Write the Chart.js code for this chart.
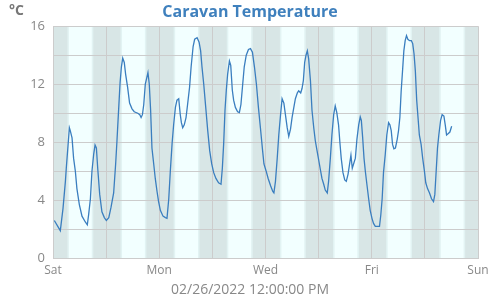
<!DOCTYPE html>
<html>
<head>
<meta charset="utf-8">
<script src="https://cdn.jsdelivr.net/npm/chart.js@4/dist/chart.umd.min.js"></script>
<style>
  body { margin: 0; background: #fff; }
  canvas { display: block; }
</style>
</head>
<body>
<canvas id="chart" width="500" height="300"></canvas>
<script>
// hours since Sat 00:00
const hours = [
  0.6, 3.3, 4.5, 5.6, 6.0, 6.6, 7.4, 7.8, 8.6, 9.3, 10.1, 10.8, 11.9, 13.1, 14.6, 15.5,
  16.1, 16.9, 17.6, 18.4, 19.0, 19.6, 20.2, 21.1, 22.1, 23.2, 24.1, 25.2, 26.2, 27.4,
  28.3, 28.9, 29.7, 30.3, 30.9, 31.5, 32.2, 32.8, 33.7, 34.6, 35.7, 36.7, 38.3, 39.2,
  39.8, 40.4, 41.0, 41.7, 42.3, 42.9, 43.5, 44.1, 44.7, 45.5, 46.2, 47.0, 47.7, 48.5,
  49.7, 50.8, 51.5, 52.3, 53.0, 53.8, 54.5, 55.3, 56.0, 56.8, 57.5, 58.0, 58.6, 59.3,
  60.1, 60.8, 61.7, 62.4, 63.3, 64.0, 65.1, 66.0, 66.7, 67.3, 68.1, 69.0, 69.9, 70.8,
  71.7, 72.6, 73.6, 74.8, 75.9, 76.5, 77.1, 77.7, 78.3, 78.9, 79.7, 80.3, 81.0, 81.6,
  82.4, 83.4, 84.2, 84.9, 85.7, 86.4, 87.3, 88.3, 89.2, 90.1, 91.0, 91.9, 92.8, 93.7,
  94.7, 95.3, 96.3, 97.2, 98.3, 99.3, 99.8, 100.5, 101.3, 102.0, 102.8, 103.5, 104.3,
  105.0, 105.8, 106.5, 107.3, 108.0, 108.8, 109.5, 110.4, 111.0, 111.9, 112.5, 113.1,
  113.7, 114.3, 114.9, 115.5, 116.3, 117.0, 117.8, 118.5, 119.3, 120.0, 120.8, 121.5,
  122.3, 123.0, 123.9, 124.5, 125.3, 126.0, 126.8, 127.5, 128.2, 129.0, 129.6, 130.2,
  131.0, 131.8, 132.5, 133.3, 134.0, 134.6, 135.2, 136.0, 136.6, 137.3, 138.1, 138.8,
  139.3, 139.9, 140.5, 141.1, 141.8, 142.6, 143.3, 144.1, 144.8, 145.6, 147.5, 148.1,
  148.7, 149.3, 150.1, 150.8, 151.6, 152.2, 152.8, 153.4, 154.0, 154.7, 155.5, 156.1,
  156.7, 157.3, 157.9, 158.5, 159.1, 159.7, 160.3, 161.1, 161.9, 162.5, 163.1, 163.7,
  164.3, 164.9, 165.5, 166.3, 167.0, 167.8, 168.4, 169.2, 170.1, 171.0, 171.9, 172.5,
  173.1, 173.7, 174.3, 175.1, 175.8, 176.6, 177.2, 177.8, 178.6, 179.3, 180.1
];
const temps = [
  2.6, 1.9, 3.4, 5.3, 6.2, 7.4, 9.0, 8.8, 8.3, 6.9, 6.0, 4.8, 3.7, 2.9, 2.5, 2.3,
  3.0, 4.1, 6.0, 7.2, 7.8, 7.6, 6.2, 4.4, 3.2, 2.8, 2.6, 2.8, 3.5, 4.5,
  6.5, 8.1, 10.4, 12.1, 13.2, 13.8, 13.5, 12.7, 11.8, 10.7, 10.3, 10.1, 10.0, 9.9,
  9.7, 9.9, 10.6, 12.0, 12.4, 12.8, 12.0, 10.2, 7.6, 6.5, 5.5, 4.6, 3.9, 3.3,
  2.9, 2.8, 2.75, 4.1, 6.0, 7.9, 9.2, 10.4, 10.9, 11.0, 9.9, 9.35, 9.0, 9.2,
  9.7, 10.6, 11.8, 13.2, 14.6, 15.1, 15.2, 14.9, 14.3, 13.2, 12.0, 10.4, 8.8, 7.4,
  6.5, 5.9, 5.5, 5.2, 5.1, 6.2, 7.9, 10.2, 11.6, 12.7, 13.6, 13.3, 11.6, 10.9,
  10.4, 10.1, 10.05, 10.6, 12.0, 13.2, 14.0, 14.4, 14.45, 14.2, 13.2, 12.0, 10.4, 9.0,
  7.4, 6.5, 6.0, 5.5, 5.0, 4.6, 4.5, 5.3, 6.9, 8.5, 9.9, 11.0, 10.7,
  9.9, 9.0, 8.4, 8.9, 9.7, 10.4, 11.0, 11.4, 11.55, 11.4, 11.7, 12.25,
  13.5, 14.0, 14.3, 13.75, 12.25, 10.2, 9.0, 8.1, 7.4, 6.8, 6.1, 5.5,
  5.1, 4.7, 4.5, 5.3, 6.9, 8.5, 9.9, 10.5, 10.05, 9.2, 8.0, 6.9,
  5.9, 5.4, 5.3, 5.8, 6.5, 7.1, 6.2, 6.6, 6.9, 8.2, 9.2, 9.75,
  9.5, 8.3, 6.9, 6.0, 5.1, 4.1, 3.3, 2.75, 2.4, 2.2, 2.2, 3.0,
  4.1, 5.9, 7.15, 8.5, 9.35, 9.2, 8.8, 7.85, 7.55, 7.6, 8.2, 8.8,
  9.7, 11.55, 12.9, 14.3, 15.0, 15.35, 15.1, 15.0, 15.0, 14.8, 14.1, 12.9,
  10.9, 9.7, 8.5, 7.85, 6.9, 6.0, 5.2, 4.8, 4.5, 4.1, 3.9, 4.4,
  6.0, 7.6, 8.5, 9.5, 9.9, 9.8, 9.2, 8.5, 8.6, 8.7, 9.1
];
const dayLabels = ['Sat', '', 'Mon', '', 'Wed', '', 'Fri', '', 'Sun'];
const yTicks = [0, 4, 8, 12, 16];

// daylight hours (twilight around them)
const dawn = 6.5, sunrise = 7.2, sunset = 17.5, dusk = 18.2;

const bandsPlugin = {
  id: 'bands',
  beforeDraw(chart) {
    const { ctx, chartArea: a, scales: { x } } = chart;
    ctx.save();
    ctx.beginPath();
    ctx.rect(a.left, a.top, a.right - a.left, a.bottom - a.top);
    ctx.clip();
    ctx.fillStyle = '#d8e6e6';
    ctx.fillRect(a.left, a.top, a.right - a.left, a.bottom - a.top);
    for (let d = 0; d < 8; d++) {
      const b = d * 24;
      let x1 = x.getPixelForValue(b + dawn), x2 = x.getPixelForValue(b + dusk);
      ctx.fillStyle = '#e2f3f3';
      ctx.fillRect(x1, a.top, x2 - x1, a.bottom - a.top);
      x1 = x.getPixelForValue(b + sunrise); x2 = x.getPixelForValue(b + sunset);
      ctx.fillStyle = '#f2ffff';
      ctx.fillRect(x1, a.top, x2 - x1, a.bottom - a.top);
    }
    ctx.restore();
  },
  afterDraw(chart) {
    const ctx = chart.ctx;
    ctx.save();
    ctx.font = 'bold 14px "Open Sans"';
    ctx.fillStyle = '#777';
    ctx.textBaseline = 'middle';
    ctx.fillText('°C', 9, 11);
    ctx.restore();
  }
};

new Chart(document.getElementById('chart'), {
  type: 'line',
  data: {
    datasets: [{
      data: hours.map((h, i) => ({ x: h, y: temps[i] })),
      borderColor: '#3a7ebf',
      borderWidth: 1.3,
      pointRadius: 0,
      tension: 0
    }]
  },
  options: {
    responsive: false,
    animation: false,
    layout: { padding: 0 },
    plugins: {
      legend: { display: false },
      tooltip: { enabled: false },
      title: {
        display: true,
        text: 'Caravan Temperature',
        color: '#3f80bd',
        font: { family: 'Open Sans', size: 16, weight: 'bold' },
        padding: { top: 3, bottom: 4 }
      },
      subtitle: {
        display: true,
        position: 'bottom',
        text: '02/26/2022 12:00:00 PM',
        color: '#888',
        font: { family: 'Open Sans', size: 14 },
        padding: { top: 0, bottom: 2 }
      }
    },
    scales: {
      x: {
        type: 'linear',
        min: 0,
        max: 192,
        afterFit: (s) => { s.height = 23; },
        ticks: {
          stepSize: 24,
          autoSkip: false,
          maxRotation: 0,
          padding: 5,
          color: '#888',
          font: { family: 'Open Sans', size: 12 },
          callback: (v) => dayLabels[v / 24] || ''
        },
        grid: { color: '#cccccc', drawTicks: false },
        border: { color: '#cccccc' }
      },
      y: {
        min: 0,
        max: 16,
        afterFit: (s) => { s.width = 53; },
        ticks: {
          stepSize: 2,
          padding: 8,
          color: '#888',
          font: { family: 'Open Sans', size: 13 },
          callback: (v) => yTicks.includes(v) ? v : ''
        },
        grid: { color: '#cccccc', drawTicks: false },
        border: { color: '#cccccc' }
      },
      // empty right-hand gutter so title and footer stay centred on the page
      gutter: {
        type: 'linear',
        position: 'right',
        afterFit: (s) => { s.width = 22; },
        ticks: { display: false },
        grid: { display: false },
        border: { display: false }
      }
    }
  },
  plugins: [bandsPlugin]
});
</script>
</body>
</html>
